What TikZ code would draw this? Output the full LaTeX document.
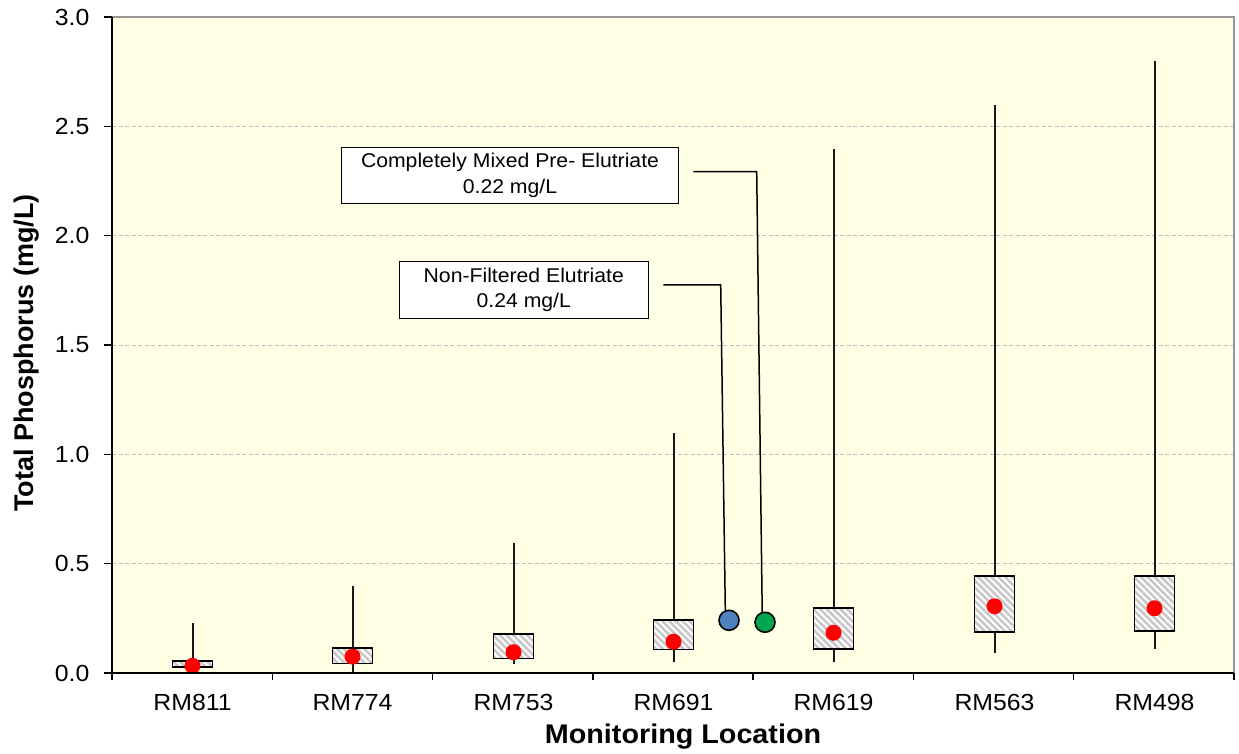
\documentclass[tikz,border=0pt]{standalone}
\usepackage{fontspec}
\setmainfont{Liberation Sans}[FakeStretch=1.065]
\newfontfamily\plainsans{Liberation Sans}
\usetikzlibrary{patterns.meta}
\definecolor{plotbg}{RGB}{255,255,230}
\definecolor{gridgray}{RGB}{190,190,190}
\definecolor{framegray}{RGB}{150,150,150}
\definecolor{hatchgray}{RGB}{200,200,200}
\definecolor{ptblue}{RGB}{79,129,189}
\definecolor{ptgreen}{RGB}{0,166,80}
\tikzset{
  gridline/.style={gridgray, line width=0.9pt, dash pattern=on 4pt off 2.5pt},
  axisline/.style={black, line width=1.4pt},
  whisker/.style={black!90, line width=2pt},
  iqrbox/.style={draw=black, line width=1.7pt, preaction={fill=white},
    pattern={Lines[angle=-45,distance=4.8pt,line width=2.6pt]}, pattern color=hatchgray},
  meandot/.style={circle, fill=red, inner sep=0pt, minimum size=16pt},
  refdot/.style={circle, draw=black, line width=1.6pt, inner sep=0pt, minimum size=20pt},
  ticklab/.style={font=\fontsize{23.3}{28}\selectfont, inner sep=0pt},
  callout/.style={draw=black, line width=1.3pt, fill=white, align=center, inner sep=0pt,
    font=\fontsize{19.9}{25.7}\selectfont},
  leader/.style={black, line width=1.5pt}
}
\begin{document}
\begin{tikzpicture}[x=1pt,y=1pt]
\useasboundingbox (0,0) rectangle (1239,753);
\fill[white] (0,0) rectangle (1239,753);
% plot area
\fill[plotbg] (112,80) rectangle (1234,736);
\begin{scope}[shift={(0,80)}, y=218.667pt]
  \foreach \v in {0.5,1.0,1.5,2.0,2.5}{
    \draw[gridline] (112,\v) -- (1234,\v);
  }
  \draw[framegray, line width=1.2pt] (112,3) -- (1234,3) -- (1234,0);
  % y ticks and labels
  \foreach \v/\t in {0/0.0,0.5/0.5,1/1.0,1.5/1.5,2/2.0,2.5/2.5,3/3.0}{
    \draw[axisline] (104,\v) -- (112,\v);
    \node[ticklab, anchor=east] (yl\t) at (89.5,\v) {\t};
  }
  % boxes: x, min, q1, q3, max, mean
  \foreach \n/\x/\mn/\qa/\qb/\mx/\me in {
      a/192.5/0.026/0.026/0.056/0.227/0.033,
      b/352.5/0.0/0.044/0.113/0.40/0.075,
      c/513.5/0.040/0.067/0.177/0.596/0.095,
      d/673.5/0.052/0.108/0.242/1.099/0.143,
      e/833.5/0.052/0.110/0.296/2.396/0.184,
      f/994.5/0.090/0.186/0.445/2.597/0.305,
      g/1154.5/0.108/0.193/0.445/2.799/0.296}{
    \draw[whisker] (\x,\mn) -- (\x,\mx);
    \draw[iqrbox] (\x-20,\qa) rectangle (\x+20,\qb);
    \node[meandot] (mean\n) at (\x,\me) {};
  }
  % reference points
  \node[refdot, fill=ptblue] (blue) at (729,0.241) {};
  \node[refdot, fill=ptgreen] (green) at (765,0.232) {};
  % axes
  \draw[axisline] (112,3) -- (112,0) -- (1234,0);
  \foreach \k in {0,...,7}{
    \draw[axisline] (112+\k*160.286,0) -- (112+\k*160.286,-7pt);
  }
\end{scope}
% category labels
\foreach \x/\t in {192.5/RM811,352.5/RM774,513.5/RM753,673.5/RM691,833.5/RM619,994.5/RM563,1154.5/RM498}{
  \node[ticklab, anchor=base] (cat\t) at (\x,42.3) {\t};
}
% axis titles
\node[font=\fontsize{27}{32}\selectfont\bfseries, anchor=base, inner sep=0pt] (xtitle) at (683,9.7) {Monitoring Location};
\node[font=\plainsans\fontsize{27}{32}\selectfont\bfseries, rotate=90, inner sep=0pt] (ytitle) at (27,400) {Total Phosphorus (mg/L)};
% callouts
\node[callout, minimum width=336.6pt, minimum height=55.6pt] (cm) at (510,577.5)
  {Completely Mixed Pre- Elutriate\\0.22 mg/L};
\node[callout, minimum width=249pt, minimum height=56.6pt] (nf) at (523.8,463)
  {Non-Filtered Elutriate\\0.24 mg/L};
\coordinate (cmstart) at (693.3,581.3);
\coordinate (cmbend) at (756.7,581.3);
\coordinate (nfstart) at (663.3,468);
\coordinate (nfbend) at (720.7,468);
\draw[leader] (cmstart) -- (cmbend) -- (green.105);
\draw[leader] (nfstart) -- (nfbend) -- (blue.110);
\end{tikzpicture}
\end{document}
